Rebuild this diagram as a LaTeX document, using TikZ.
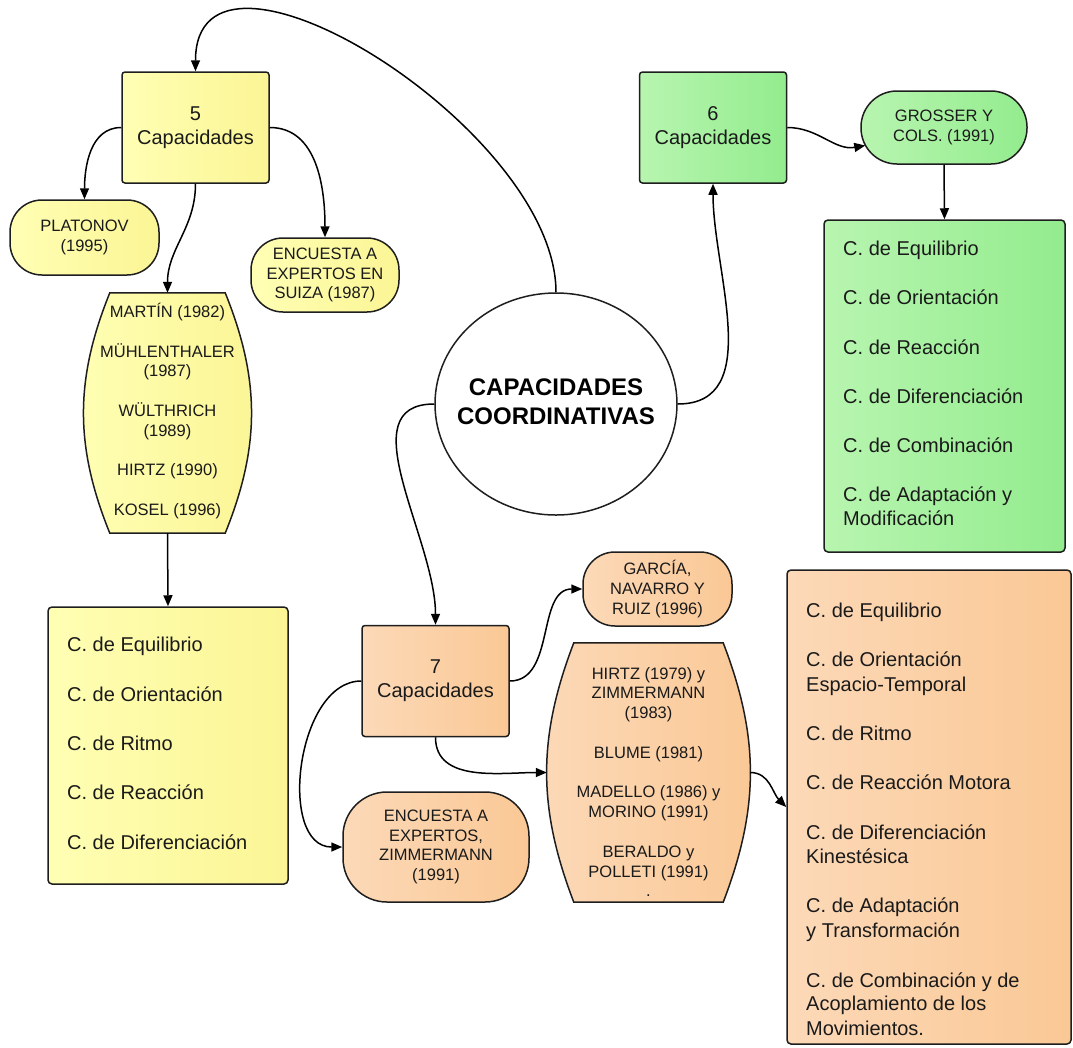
\documentclass[tikz,border=0pt]{standalone}
\usepackage{fontspec}
\setmainfont{Liberation Sans}
\usetikzlibrary{arrows.meta,shapes.geometric,calc}
\definecolor{linec}{HTML}{1E1E1E}
\definecolor{textc}{HTML}{1A1A1A}
\definecolor{yelA}{HTML}{FFFFB4}
\definecolor{yelB}{HTML}{FBF595}
\definecolor{grnA}{HTML}{B8F5B0}
\definecolor{grnB}{HTML}{93EC8E}
\definecolor{orgA}{HTML}{FCD9B8}
\definecolor{orgB}{HTML}{FAC895}
\begin{document}
\begin{tikzpicture}[x=1pt,y=1pt,
  shp/.style={draw=linec, line width=1.5pt, text=textc, align=center, inner sep=0pt},
  box/.style={shp, rectangle, rounded corners=3pt, minimum width=147pt, minimum height=111pt, font=\fontsize{20}{24}\selectfont},
  pill/.style={shp, rectangle, rounded corners=#1, font=\fontsize{16.5}{19.8}\selectfont},
  pill/.default=32pt,
  barrelframe/.style={rectangle, inner sep=0pt},
  barrelline/.style={draw=linec, line width=1.5pt},
  smalltxt/.style={align=center, inner sep=0pt, text=textc, font=\fontsize{16.5}{19.8}\selectfont},
  listbox/.style={shp, rectangle, rounded corners=4pt},
  item/.style={anchor=base west, inner sep=0pt, text=textc, font=\fontsize{20}{24.7}\selectfont},
  yel/.style={left color=yelA, right color=yelB},
  grn/.style={left color=grnA, right color=grnB},
  org/.style={left color=orgA, right color=orgB},
  arr/.style={draw=black, line width=1.5pt, -{Triangle[length=11pt,width=9pt]}}
]
\useasboundingbox (0,0) rectangle (1073,-1047);

% centre
\node[shp, ellipse, fill=white, minimum width=242pt, minimum height=222pt] (circ) at (556,-404) {};
\node[align=center, inner sep=0pt, text=black, font=\fontsize{24}{29}\selectfont\bfseries] (circt) at (556,-402) {CAPACIDADES\\COORDINATIVAS};

% yellow branch
\node[box, yel] (n5) at (195.5,-127.5) {5\\Capacidades};
\node[pill, yel, minimum width=149pt, minimum height=75pt] (plat) at (84.5,-237.5) {PLATONOV\\(1995)};
\node[pill, yel, minimum width=148pt, minimum height=74pt] (suiza) at (325,-275) {ENCUESTA A\\EXPERTOS EN\\SUIZA (1987)};
\node[barrelframe, minimum width=167pt, minimum height=240pt] (bar1) at (167.5,-413) {};
\path[barrelline, yel] ($(bar1.north west)+(26,0)$) -- ($(bar1.north east)+(-26,0)$)
  to[bend left=22] ($(bar1.south east)+(-26,0)$) -- ($(bar1.south west)+(26,0)$)
  to[bend left=22] ($(bar1.north west)+(26,0)$) -- cycle;
\node[smalltxt] (bar1t) at (167.5,-411) {MARTÍN (1982)\\[19.8pt]MÜHLENTHALER\\(1987)\\[19.8pt]WÜLTHRICH\\(1989)\\[19.8pt]HIRTZ (1990)\\[19.8pt]KOSEL (1996)};
\node[listbox, yel, minimum width=240pt, minimum height=277pt] (ylist) at (168,-745.5) {};
\foreach \yy/\lbl [count=\i] in {651/C. de Equilibrio, 701/C. de Orientación, 750/C. de Ritmo, 799/C. de Reacción, 849/C. de Diferenciación}
  \node[item] (yl\i) at (67,-\yy) {\lbl};

% green branch
\node[box, grn] (n6) at (713,-127.5) {6\\Capacidades};
\node[pill=36pt, grn, minimum width=166pt, minimum height=73pt] (gros) at (944,-127.5) {GROSSER Y\\COLS. (1991)};
\node[listbox, grn, minimum width=241pt, minimum height=332pt] (glist) at (944.5,-386) {};
\foreach \yy/\lbl [count=\i] in {255/C. de Equilibrio, 304/C. de Orientación, 354/C. de Reacción, 403/C. de Diferenciación, 452/C. de Combinación, 501/C. de Adaptación y, 525/Modificación}
  \node[item] (gl\i) at (843,-\yy) {\lbl};

% orange branch
\node[box, org] (n7) at (435.5,-681) {7\\Capacidades};
\node[pill, org, minimum width=149pt, minimum height=74pt] (garcia) at (657.5,-589) {GARCÍA,\\NAVARRO Y\\RUIZ (1996)};
\node[barrelframe, minimum width=203pt, minimum height=259pt] (bar2) at (648.5,-772.5) {};
\path[barrelline, org] ($(bar2.north west)+(27,0)$) -- ($(bar2.north east)+(-27,0)$)
  to[bend left=21] ($(bar2.south east)+(-27,0)$) -- ($(bar2.south west)+(27,0)$)
  to[bend left=21] ($(bar2.north west)+(27,0)$) -- cycle;
\node[smalltxt] (bar2t) at (648.5,-782) {HIRTZ (1979) y\\ZIMMERMANN\\(1983)\\[19.8pt]BLUME (1981)\\[19.8pt]MADELLO (1986) y\\MORINO (1991)\\[19.8pt]BERALDO y\\POLLETI (1991)\\.};
\node[pill=44pt, org, minimum width=186pt, minimum height=110pt] (zimm) at (436,-847) {ENCUESTA A\\EXPERTOS,\\ZIMMERMANN\\(1991)};
\node[listbox, org, minimum width=284pt, minimum height=474pt] (olist) at (929,-807) {};
\foreach \yy/\lbl [count=\i] in {617/C. de Equilibrio, 666/C. de Orientación, 691/Espacio-Temporal, 740/C. de Ritmo, 789/C. de Reacción Motora, 839/C. de Diferenciación, 863/Kinestésica, 912/C. de Adaptación, 937/y Transformación, 987/C. de Combinación y de, 1010/Acoplamiento de los, 1035/Movimientos.}
  \node[item] (ol\i) at (806,-\yy) {\lbl};

% connectors
\draw[arr] (circ.north) to[out=90,in=90] (n5.north);
\draw[arr] (circ.east) to[out=0,in=-90] (n6.south);
\draw[arr] (circ.west) to[out=180,in=90] (n7.north);
\draw[arr] (n5.west) to[out=180,in=90] (plat.north);
\draw[arr] (n5.east) to[out=0,in=90] (suiza.north);
\draw[arr] (n5.south) to[out=-90,in=90] (bar1.north);
\draw[arr] (bar1.south) -- (ylist.north);
\draw[arr] (n6.east) to[out=0,in=190] ($(gros.west)+(5,-18)$);
\draw[arr] (gros.south) -- (glist.north);
\draw[arr] (n7.east) to[out=0,in=180] (garcia.west);
\draw[arr] (n7.south) to[out=-90,in=180] (bar2.west);
\draw[arr] (n7.west) to[out=180,in=180] (zimm.west);
\draw[arr] (bar2.east) to[out=0,in=135] (olist.west);
\end{tikzpicture}
\end{document}
